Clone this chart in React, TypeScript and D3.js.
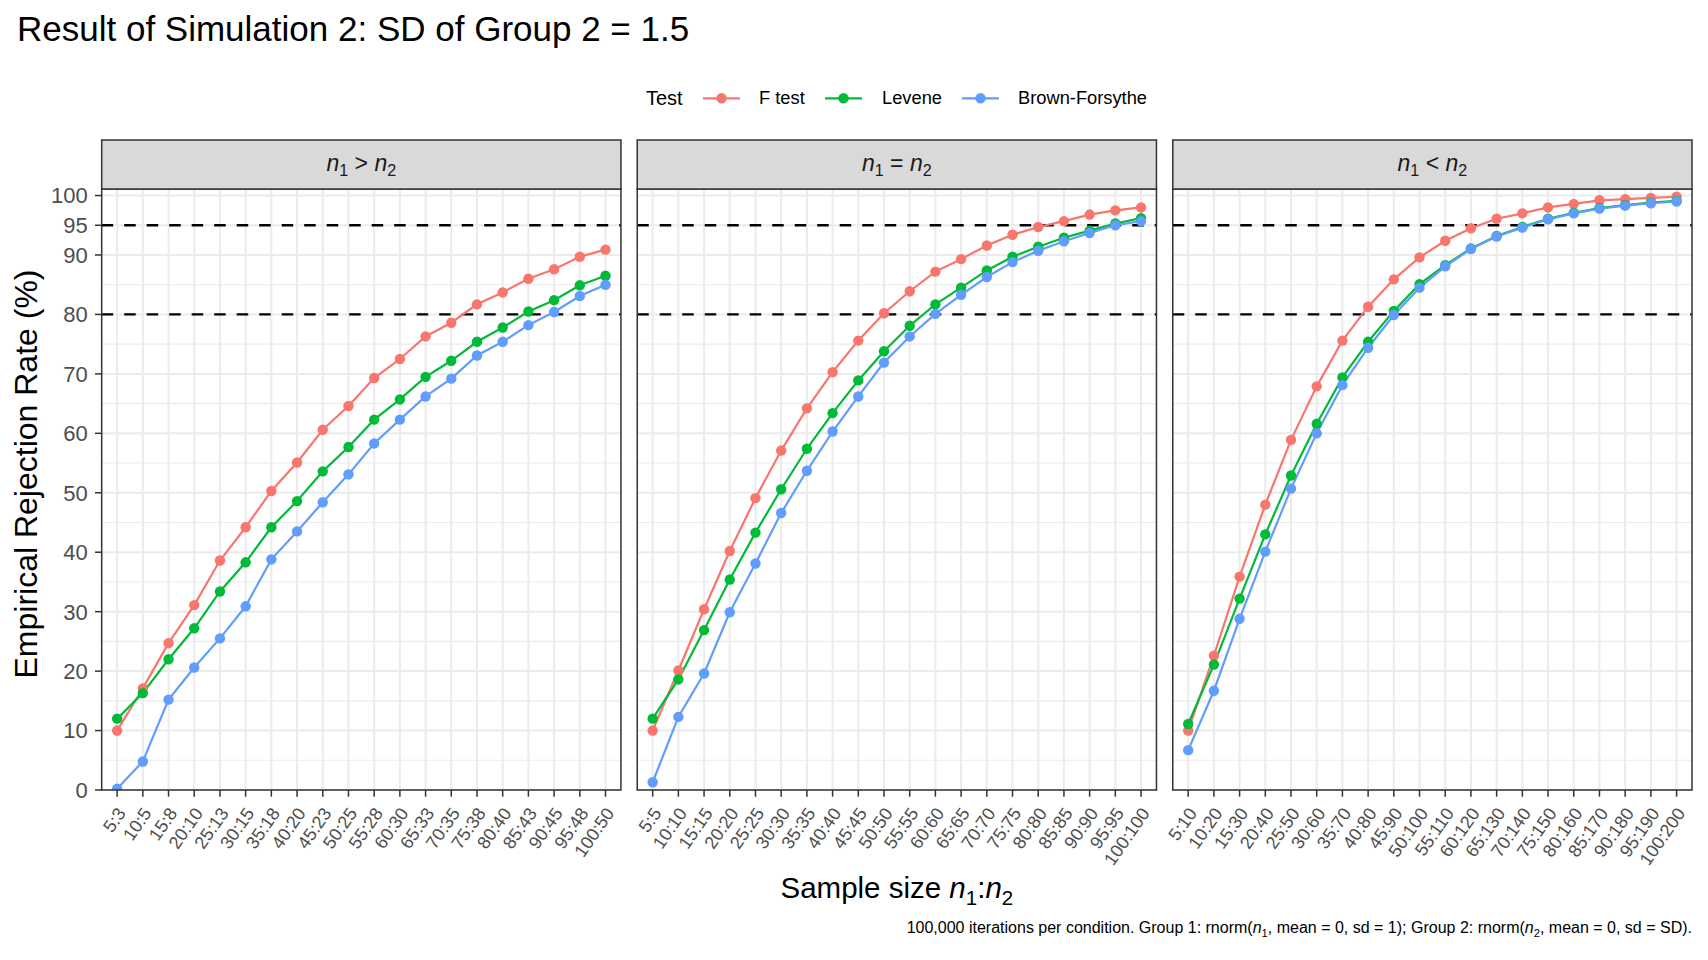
import React from 'react';
import * as d3 from 'd3';

// ---- data ----
const tests = ['F test', 'Levene', 'Brown-Forsythe'];
const testColors = ['#F8766D', '#00BA38', '#619CFF'];

const labelsGt = ['5:3', '10:5', '15:8', '20:10', '25:13', '30:15', '35:18', '40:20', '45:23', '50:25',
  '55:28', '60:30', '65:33', '70:35', '75:38', '80:40', '85:43', '90:45', '95:48', '100:50'];
const labelsEq = ['5:5', '10:10', '15:15', '20:20', '25:25', '30:30', '35:35', '40:40', '45:45', '50:50',
  '55:55', '60:60', '65:65', '70:70', '75:75', '80:80', '85:85', '90:90', '95:95', '100:100'];
const labelsLt = ['5:10', '10:20', '15:30', '20:40', '25:50', '30:60', '35:70', '40:80', '45:90', '50:100',
  '55:110', '60:120', '65:130', '70:140', '75:150', '80:160', '85:170', '90:180', '95:190', '100:200'];

const fGt = [10.0, 17.1, 24.7, 31.1, 38.6, 44.2, 50.3, 55.1, 60.6, 64.6, 69.3, 72.5, 76.3, 78.6, 81.7, 83.7, 86.0, 87.6, 89.7, 90.9];
const leveneGt = [12.0, 16.3, 22.0, 27.2, 33.4, 38.3, 44.2, 48.6, 53.6, 57.7, 62.3, 65.7, 69.5, 72.2, 75.4, 77.8, 80.5, 82.4, 84.9, 86.5];
const bfGt = [0.2, 4.8, 15.2, 20.6, 25.5, 30.9, 38.8, 43.5, 48.4, 53.1, 58.3, 62.3, 66.2, 69.2, 73.1, 75.4, 78.2, 80.4, 83.1, 85.0];

const fEq = [10.0, 20.1, 30.4, 40.2, 49.1, 57.1, 64.2, 70.3, 75.6, 80.2, 83.9, 87.2, 89.3, 91.6, 93.4, 94.7, 95.7, 96.8, 97.5, 98.0];
const leveneEq = [12.0, 18.6, 26.9, 35.4, 43.3, 50.6, 57.4, 63.4, 68.9, 73.8, 78.1, 81.7, 84.5, 87.4, 89.7, 91.4, 92.9, 94.1, 95.3, 96.2];
const bfEq = [1.3, 12.3, 19.6, 29.9, 38.1, 46.6, 53.7, 60.3, 66.2, 71.9, 76.3, 80.1, 83.3, 86.3, 88.8, 90.7, 92.3, 93.7, 95.0, 95.7];

const fLt = [10.0, 22.6, 35.9, 48.0, 58.9, 67.9, 75.6, 81.3, 85.9, 89.6, 92.4, 94.5, 96.1, 97.0, 98.0, 98.6, 99.2, 99.4, 99.6, 99.8];
const leveneLt = [11.1, 21.1, 32.2, 43.0, 52.9, 61.6, 69.4, 75.4, 80.6, 85.1, 88.3, 91.1, 93.2, 94.7, 96.1, 97.1, 97.9, 98.4, 98.8, 99.1];
const bfLt = [6.7, 16.7, 28.8, 40.1, 50.7, 60.0, 68.1, 74.4, 79.9, 84.5, 88.1, 91.0, 93.1, 94.6, 96.0, 97.0, 97.8, 98.3, 98.7, 99.0];

const yBreaks = [0, 10, 20, 30, 40, 50, 60, 70, 80, 90, 95, 100];
const yMinor = [5, 15, 25, 35, 45, 55, 65, 75, 85];
const refLines = [80, 95];

const panels = [
  { rel: '>', labels: labelsGt, series: [fGt, leveneGt, bfGt] },
  { rel: '=', labels: labelsEq, series: [fEq, leveneEq, bfEq] },
  { rel: '<', labels: labelsLt, series: [fLt, leveneLt, bfLt] },
];

// ---- layout ----
const W = 1708;
const H = 960;
const FONT = '"Liberation Sans", Arial, Helvetica, sans-serif';
const panelLeft = 101.7;
const panelRight = 1692;
const panelGap = 16.3;
const panelW = (panelRight - panelLeft - 2 * panelGap) / 3;
const stripTop = 140;
const panelTop = 189;
const panelBottom = 790;

const y = d3.scaleLinear().domain([0, 101.1]).range([panelBottom, panelTop]);

const Sub = ({ children, size }: any) => (
  <tspan fontSize={size} dy={size * 0.35}>{children}</tspan>
);

const Facet = ({ panel, index }: any) => {
  const x0 = panelLeft + index * (panelW + panelGap);
  const x = d3.scalePoint<string>().domain(panel.labels).range([x0, x0 + panelW]).padding(0.6);
  const line = d3.line<number>()
    .x((_, i) => x(panel.labels[i]) as number)
    .y((d) => y(d));
  const clipId = `clip-${index}`;
  const stripFont = 23;

  return (
    <g>
      <defs>
        <clipPath id={clipId}>
          <rect x={x0} y={panelTop} width={panelW} height={panelBottom - panelTop} />
        </clipPath>
      </defs>
      <rect x={x0} y={panelTop} width={panelW} height={panelBottom - panelTop} fill="#FFFFFF" />
      {/* grid */}
      {yMinor.map((v) => (
        <line key={`mi${v}`} x1={x0} x2={x0 + panelW} y1={y(v)} y2={y(v)} stroke="#EBEBEB" strokeWidth={1.1} />
      ))}
      {yBreaks.map((v) => (
        <line key={`ma${v}`} x1={x0} x2={x0 + panelW} y1={y(v)} y2={y(v)} stroke="#EBEBEB" strokeWidth={2} />
      ))}
      {panel.labels.map((l: string) => (
        <line key={`vx${l}`} x1={x(l)} x2={x(l)} y1={panelTop} y2={panelBottom} stroke="#EBEBEB" strokeWidth={2} />
      ))}
      {/* reference lines */}
      {refLines.map((v) => (
        <line key={`ref${v}`} x1={x0} x2={x0 + panelW} y1={y(v)} y2={y(v)}
          stroke="#000000" strokeWidth={2.3} strokeDasharray="11.5 11" />
      ))}
      <g clipPath={`url(#${clipId})`}>
        {panel.series.map((s: number[], si: number) => (
          <path key={`ln${si}`} d={line(s) || ''} fill="none" stroke={testColors[si]} strokeWidth={2.2} />
        ))}
        {panel.series.map((s: number[], si: number) => (
          <g key={`pt${si}`}>
            {s.map((v, i) => (
              <circle key={i} cx={x(panel.labels[i])} cy={y(v)} r={5.2} fill={testColors[si]} />
            ))}
          </g>
        ))}
      </g>
      {/* panel border */}
      <rect x={x0} y={panelTop} width={panelW} height={panelBottom - panelTop} fill="none" stroke="#333333" strokeWidth={1.5} />
      {/* strip */}
      <rect x={x0} y={stripTop} width={panelW} height={panelTop - stripTop} fill="#D9D9D9" stroke="#333333" strokeWidth={1.5} />
      <text x={x0 + panelW / 2} y={(stripTop + panelTop) / 2 + 6} textAnchor="middle" fontFamily={FONT}
        fontSize={stripFont} fill="#1A1A1A">
        <tspan fontStyle="italic">n</tspan>
        <Sub size={stripFont * 0.7}>1</Sub>
        <tspan dy={-stripFont * 0.7 * 0.35}>{` ${panel.rel} `}</tspan>
        <tspan fontStyle="italic">n</tspan>
        <Sub size={stripFont * 0.7}>2</Sub>
      </text>
      {/* x axis */}
      {panel.labels.map((l: string) => (
        <g key={`xt${l}`}>
          <line x1={x(l)} x2={x(l)} y1={panelBottom} y2={panelBottom + 6.7} stroke="#333333" strokeWidth={1.5} />
          <text transform={`translate(${(x(l) as number) - 1},${panelBottom + 16}) rotate(-55)`}
            textAnchor="end" dy="0.71em" fontFamily={FONT} fontSize={18} fill="#4D4D4D">{l}</text>
        </g>
      ))}
    </g>
  );
};

const App = () => {
  const legendItems = [
    { keyX: 703, textX: 759 },
    { keyX: 825, textX: 882 },
    { keyX: 962, textX: 1018 },
  ];
  const legendY = 98.3;

  return (
    <svg width={W} height={H} style={{ position: 'absolute', left: 0, top: 0, background: '#FFFFFF' }}
      fontFamily={FONT}>
      <rect x={0} y={0} width={W} height={H} fill="#FFFFFF" />
      <text x={17} y={41} fontSize={35} fill="#000000">Result of Simulation 2: SD of Group 2 = 1.5</text>

      {/* legend */}
      <text x={646} y={105} fontSize={20} fill="#000000">Test</text>
      {tests.map((t, i) => (
        <g key={t}>
          <line x1={legendItems[i].keyX} x2={legendItems[i].keyX + 37} y1={legendY} y2={legendY}
            stroke={testColors[i]} strokeWidth={2.2} />
          <circle cx={legendItems[i].keyX + 18.5} cy={legendY} r={5.2} fill={testColors[i]} />
          <text x={legendItems[i].textX} y={104} fontSize={18.3} fill="#000000">{t}</text>
        </g>
      ))}

      {/* y axis (left panel only) */}
      {yBreaks.map((v) => (
        <g key={`yt${v}`}>
          <line x1={panelLeft - 6.7} x2={panelLeft} y1={y(v)} y2={y(v)} stroke="#333333" strokeWidth={1.5} />
          <text x={panelLeft - 14} y={y(v)} dy="0.36em" textAnchor="end" fontSize={22} fill="#4D4D4D">{v}</text>
        </g>
      ))}
      <text transform={`translate(37,474) rotate(-90)`} textAnchor="middle"
        fontSize={32} fill="#000000">Empirical Rejection Rate (%)</text>

      {panels.map((p, i) => (
        <Facet key={p.rel} panel={p} index={i} />
      ))}

      {/* x axis title */}
      <text x={(panelLeft + panelRight) / 2} y={898} textAnchor="middle" fontSize={29.5} fill="#000000">
        Sample size <tspan fontStyle="italic">n</tspan>
        <Sub size={20.5}>1</Sub>
        <tspan dy={-7.2}>:</tspan>
        <tspan fontStyle="italic">n</tspan>
        <Sub size={20.5}>2</Sub>
      </text>

      {/* caption */}
      <text x={panelRight} y={933} textAnchor="end" fontSize={16} fill="#000000">
        100,000 iterations per condition. Group 1: rnorm(<tspan fontStyle="italic">n</tspan>
        <Sub size={11.2}>1</Sub>
        <tspan dy={-3.9}>, mean = 0, sd = 1); Group 2: rnorm(</tspan>
        <tspan fontStyle="italic">n</tspan>
        <Sub size={11.2}>2</Sub>
        <tspan dy={-3.9}>, mean = 0, sd = SD).</tspan>
      </text>
    </svg>
  );
};

export default App;
